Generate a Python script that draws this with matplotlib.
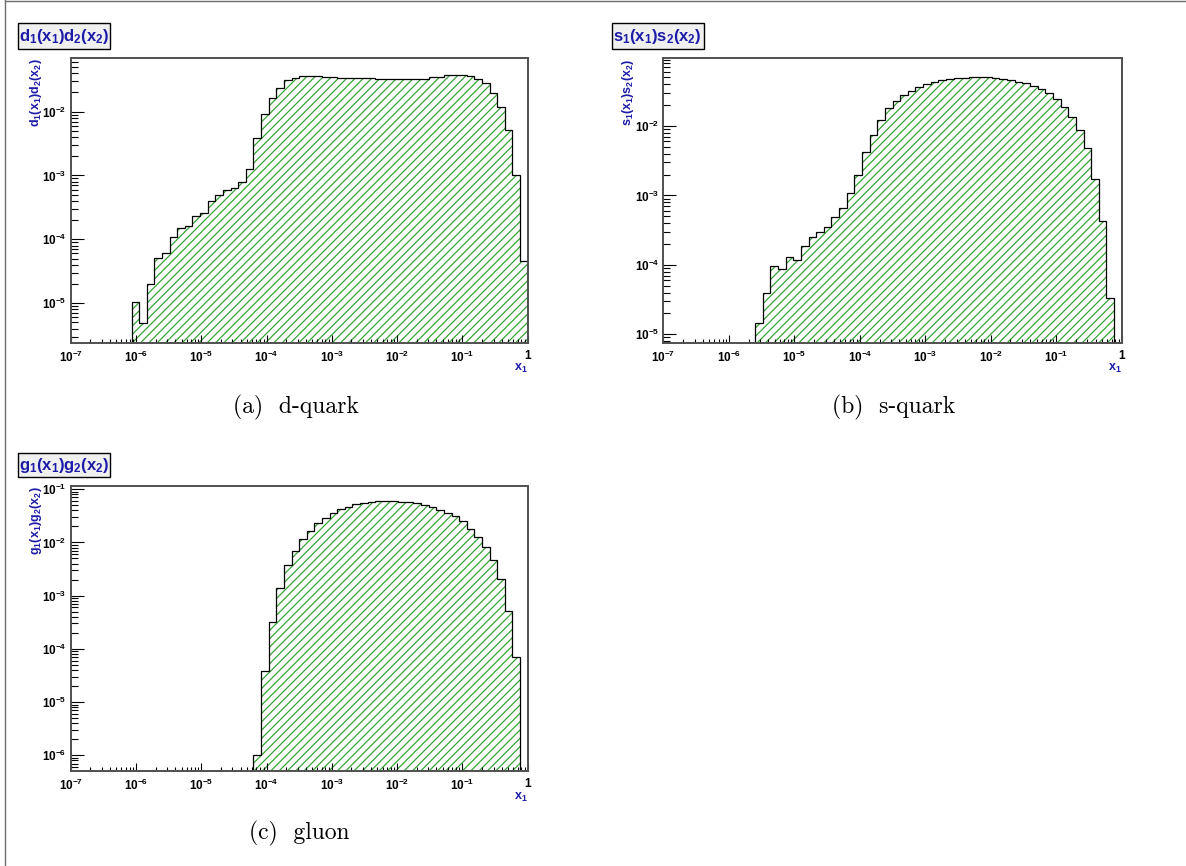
import numpy as np
import matplotlib.pyplot as plt
from matplotlib import ticker
from matplotlib.patches import Rectangle
from matplotlib.lines import Line2D

plt.rcParams['mathtext.fontset'] = 'custom'
plt.rcParams['mathtext.bf'] = 'Liberation Sans:bold'
plt.rcParams['mathtext.rm'] = 'Liberation Sans'
plt.rcParams['mathtext.it'] = 'Liberation Sans:italic'
plt.rcParams['mathtext.default'] = 'bf'
plt.rcParams['hatch.linewidth'] = 0.9

W, H = 1186, 866

# 60 log-spaced bins in x1 between 1e-7 and 1
edges = np.logspace(-7, 0, 61)

# d-quark: bins 8..59
d_first = 8
d_vals = [1.04e-5, 4.8e-6, 2.0e-5, 5.1e-5, 6.2e-5, 1.1e-4, 1.5e-4, 1.6e-4,
          2.3e-4, 2.6e-4, 4.0e-4, 5.0e-4, 5.9e-4, 6.3e-4, 8.0e-4, 1.27e-3,
          3.9e-3, 9.2e-3, 1.64e-2, 2.33e-2, 3.08e-2, 3.4e-2,
          3.65e-2, 3.65e-2, 3.6e-2, 3.55e-2, 3.47e-2, 3.43e-2, 3.39e-2, 3.39e-2,
          3.35e-2, 3.35e-2, 3.27e-2, 3.27e-2, 3.27e-2, 3.3e-2, 3.3e-2, 3.3e-2,
          3.3e-2, 3.53e-2, 3.53e-2, 3.74e-2, 3.74e-2, 3.74e-2, 3.6e-2, 3.28e-2,
          2.77e-2, 1.97e-2, 1.19e-2, 5.1e-3, 1.02e-3, 4.5e-5]

# s-quark: bins 12..58
s_first = 12
s_vals = [1.47e-5, 3.9e-5, 9.7e-5, 8.8e-5, 1.32e-4, 1.18e-4, 1.88e-4, 2.56e-4,
          2.99e-4, 3.57e-4, 4.97e-4, 6.57e-4, 1.08e-3, 1.96e-3, 4.16e-3, 7.34e-3,
          1.22e-2, 1.80e-2, 2.29e-2, 2.80e-2, 3.23e-2, 3.69e-2, 4.03e-2, 4.3e-2,
          4.55e-2, 4.75e-2, 4.85e-2, 4.96e-2, 5.0e-2, 5.0e-2, 5.0e-2, 4.9e-2,
          4.8e-2, 4.6e-2, 4.35e-2, 4.1e-2, 3.75e-2, 3.38e-2, 2.96e-2, 2.43e-2,
          1.9e-2, 1.36e-2, 8.76e-3, 4.78e-3, 1.71e-3, 4.28e-4, 3.36e-5]

# gluon: bins 24..58
g_first = 24
g_vals = [1.0e-6, 3.8e-5, 3.15e-4, 1.41e-3, 3.72e-3, 6.97e-3, 1.155e-2, 1.66e-2,
          2.31e-2, 2.82e-2, 3.55e-2, 4.2e-2, 4.72e-2, 5.23e-2, 5.46e-2, 5.7e-2,
          6.04e-2, 6.1e-2, 6.04e-2, 5.86e-2, 5.7e-2, 5.46e-2, 5.08e-2, 4.59e-2,
          4.09e-2, 3.65e-2, 3.15e-2, 2.5e-2, 1.78e-2, 1.27e-2, 8.05e-3, 4.68e-3,
          2.03e-3, 5.2e-4, 7.07e-5]

titles = [r'$d_1(x_1)d_2(x_2)$', r'$s_1(x_1)s_2(x_2)$', r'$g_1(x_1)g_2(x_2)$']
captions = ['(a)  d-quark', '(b)  s-quark', '(c)  gluon']
ylims = [(2.4e-6, 6.86e-2), (7.57e-6, 9.45e-2), (5.07e-7, 0.115)]
x_decades = [-7, -6, -5, -4, -3, -2, -1, 0]
y_decades = [[-5, -4, -3, -2], [-5, -4, -3, -2], [-6, -5, -4, -3, -2, -1]]

# pixel boxes: axes (left, top, right, bottom), title box, caption centre
ax_px = [(70.6, 58.3, 527.7, 342.7), (663.4, 58.3, 1121.7, 342.7),
         (70.6, 486.0, 527.7, 771.0)]
title_px = [(18.3, 23.3, 110.2, 49.3), (612.0, 23.3, 703.6, 49.3),
            (18.3, 452.7, 110.2, 477.3)]
caption_px = [(296, 407), (894, 407), (299, 833)]

blue = '#1c1ca8'
green = '#35a535'

fig = plt.figure(figsize=(W / 100, H / 100), dpi=100)


def fx(x):
    return x / W


def fy(y):
    return 1 - y / H


def log_label(v, pos):
    if abs(v - 1) < 1e-9:
        return '1'
    return r'$10^{%d}$' % int(round(np.log10(v)))


series = [(d_first, d_vals), (s_first, s_vals), (g_first, g_vals)]

for i, (first, vals) in enumerate(series):
    l, t, r, b = ax_px[i]
    ax = fig.add_axes([fx(l), fy(b), (r - l) / W, (b - t) / H])
    ax.set_xscale('log')
    ax.set_yscale('log')
    ax.set_xlim(1e-7, 1)
    ax.set_ylim(*ylims[i])

    e = edges[first:first + len(vals) + 1]
    ax.stairs(vals, e, baseline=1e-12, fill=True, facecolor='none',
              edgecolor=green, hatch='////', linewidth=0)
    ax.stairs(vals, e, baseline=1e-12, fill=False, color='black', linewidth=0.9)

    ax.xaxis.set_major_locator(ticker.FixedLocator([10.0 ** k for k in x_decades]))
    ax.yaxis.set_major_locator(ticker.FixedLocator([10.0 ** k for k in y_decades[i]]))
    for axis in (ax.xaxis, ax.yaxis):
        axis.set_minor_locator(ticker.LogLocator(base=10, subs=np.arange(2, 10), numticks=20))
        axis.set_major_formatter(ticker.FuncFormatter(log_label))
        axis.set_minor_formatter(ticker.NullFormatter())

    ax.tick_params(axis='x', which='major', direction='in', length=6, width=0.8,
                   pad=5, labelsize=8.5, top=False)
    ax.tick_params(axis='x', which='minor', direction='in', length=3.2, width=0.8, top=False)
    ax.tick_params(axis='y', which='major', direction='in', length=9.5, width=0.8,
                   pad=3, labelsize=8.5, right=False)
    ax.tick_params(axis='y', which='minor', direction='in', length=5.2, width=0.8, right=False)
    for lab in ax.get_xticklabels() + ax.get_yticklabels():
        lab.set_fontweight('bold')
        lab.set_family('Liberation Sans')

    for sp in ax.spines.values():
        sp.set_color('#505050')
        sp.set_linewidth(1.4)

    # title box in the upper left of each pad
    tl, tt, tr, tb = title_px[i]
    fig.add_artist(Rectangle((fx(tl), fy(tb)), (tr - tl) / W, (tb - tt) / H,
                             transform=fig.transFigure, facecolor='#f0f0f0',
                             edgecolor='black', linewidth=1.0))
    fig.text(fx((tl + tr) / 2), fy((tt + tb) / 2), titles[i], color=blue,
             size=12, ha='center', va='center')

    # axis titles
    fig.text(fx(l - 35), fy(t), titles[i], color=blue, size=9,
             rotation=90, ha='center', va='top')
    fig.text(fx(r), fy(b + 26), r'$x_1$', color=blue, size=9,
             ha='right', va='center')

    cx, cy = caption_px[i]
    fig.text(fx(cx), fy(cy), captions[i], family='cmr10', size=17,
             ha='center', va='center')

# page frame lines
fig.add_artist(Line2D([fx(5), fx(5)], [0, 1], transform=fig.transFigure,
                      color='#707070', linewidth=1.0))
fig.add_artist(Line2D([fx(5), 1], [fy(1), fy(1)], transform=fig.transFigure,
                      color='#707070', linewidth=1.0))

fig.savefig('out.png', dpi=100)
